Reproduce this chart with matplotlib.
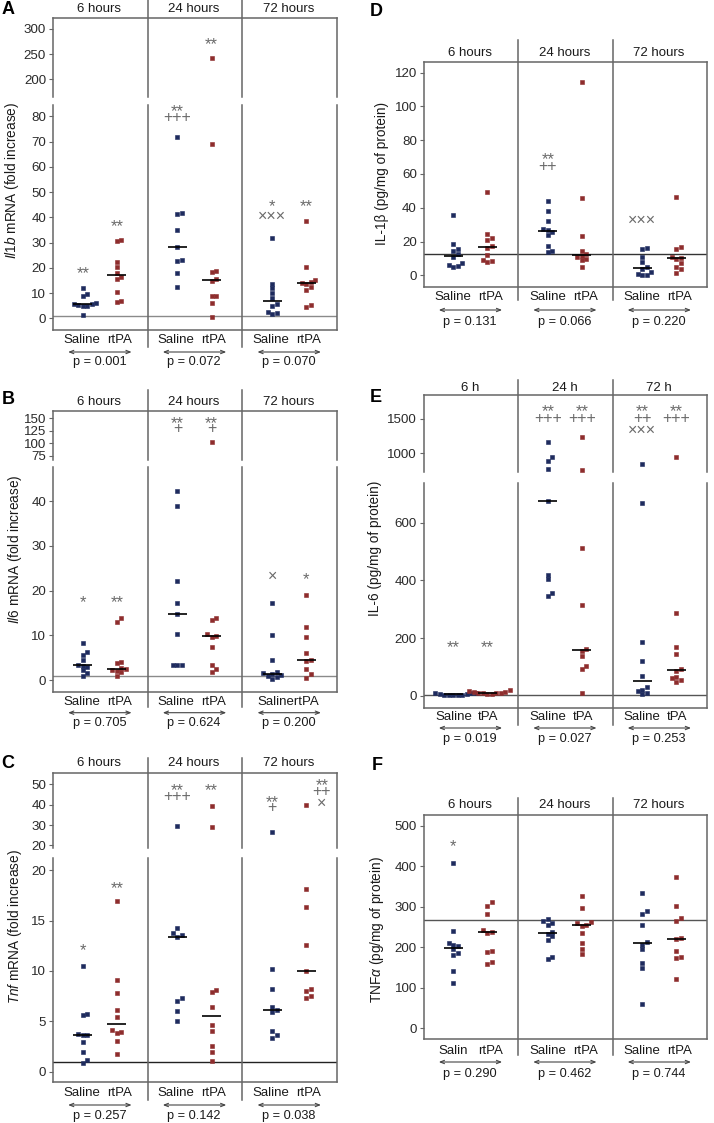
import numpy as np
import matplotlib
matplotlib.use('Agg')
import matplotlib.pyplot as plt
import matplotlib.transforms as mt

plt.rcParams['font.family'] = ['Liberation Sans', 'DejaVu Sans']
plt.rcParams['mathtext.fontset'] = 'custom'
plt.rcParams['mathtext.it'] = 'Liberation Sans:italic'
plt.rcParams['mathtext.rm'] = 'Liberation Sans'

# ---- data ----
hours = ['6 hours', '24 hours', '72 hours']
hours_e = ['6 h', '24 h', '72 h']

A_saline = [[12.1, 9.5, 9.0, 5.9, 5.6, 5.5, 5.3, 5.1, 4.9, 1.3],
            [71.8, 41.8, 41.3, 35.0, 28.4, 23.0, 22.8, 18.0, 12.5],
            [31.7, 13.7, 11.9, 10.2, 8.0, 5.8, 4.9, 2.6, 2.1, 1.9]]
A_rtpa = [[31.0, 30.6, 22.2, 20.3, 18.0, 16.3, 15.7, 10.6, 6.8, 6.4],
          [243.4, 69.0, 18.9, 18.3, 15.6, 15.0, 9.0, 8.8, 6.2, 0.5],
          [38.5, 20.2, 15.2, 14.5, 14.0, 13.8, 12.5, 11.2, 5.3, 4.6]]
A_notes = [[('s', '**', 19.8), ('r', '**', 38.5)],
           [('s', '**', 83.8), ('s', '+++', 79.5), ('r', '**', 278)],
           [('s', '*', 46.2), ('s', '×××', 40.3), ('r', '**', 46.2)]]
A_p = ['p = 0.001', 'p = 0.072', 'p = 0.070']

B_saline = [[8.3, 6.3, 5.6, 4.5, 3.4, 3.2, 2.8, 2.2, 1.6, 1.0],
            [42.2, 38.9, 22.2, 17.1, 14.7, 10.2, 3.4, 3.4, 3.4],
            [17.3, 10.0, 4.5, 1.8, 1.5, 1.3, 1.1, 0.9, 0.6, 0.2]]
B_rtpa = [[13.8, 13.0, 4.1, 3.7, 2.7, 2.4, 2.2, 2.0, 1.7, 0.9],
          [102.7, 13.8, 13.4, 10.2, 9.9, 9.7, 7.4, 3.4, 2.4, 1.9],
          [19.1, 11.9, 9.5, 6.0, 4.5, 4.3, 2.5, 1.3, 0.5]]
B_notes = [[('s', '*', 18.5), ('r', '**', 18.5)],
           [('s', '**', 150), ('s', '+', 130), ('r', '**', 150), ('r', '+', 130)],
           [('s', '×', 23.2), ('r', '*', 23.5)]]
B_p = ['p = 0.705', 'p = 0.624', 'p = 0.200']

C_saline = [[10.5, 5.7, 5.6, 3.7, 3.6, 3.6, 2.9, 1.95, 1.2, 0.9],
            [29.3, 14.3, 13.8, 13.55, 13.4, 7.3, 7.0, 6.05, 5.0],
            [26.4, 10.2, 8.2, 6.4, 6.1, 5.9, 4.0, 3.6, 3.3]]
C_rtpa = [[16.9, 9.06, 7.8, 6.15, 5.4, 4.1, 3.9, 3.8, 3.0, 1.8],
          [39.5, 28.9, 8.1, 7.9, 6.45, 4.6, 4.07, 2.6, 2.0, 1.1],
          [40.0, 18.1, 16.3, 12.6, 10.0, 8.2, 8.0, 7.5, 7.3]]
C_notes = [[('s', '*', 12.5), ('r', '**', 18.7)],
           [('s', '**', 49.2), ('s', '+++', 44.0), ('r', '**', 49.2)],
           [('s', '**', 43.6), ('s', '+', 38.5),
            ('r+', '**', 51.8), ('r+', '++', 46.4), ('r+', '×', 40.6)]]
C_p = ['p = 0.257', 'p = 0.142', 'p = 0.038']

D_saline = [[35.7, 18.5, 15.5, 14.6, 12.5, 10.7, 7.2, 6.2, 5.6, 5.0],
            [44.0, 38.1, 32.2, 27.2, 26.6, 25.8, 23.9, 17.4, 14.6, 13.8],
            [16.0, 15.4, 11.0, 8.1, 5.1, 4.0, 2.2, 0.5, 0.2, 0.0]]
D_rtpa = [[49.5, 24.5, 22.3, 20.9, 17.1, 16.1, 11.8, 9.1, 8.3, 8.0],
          [114.7, 45.8, 23.5, 14.6, 12.8, 11.6, 10.8, 9.8, 9.1, 4.8],
          [46.2, 17.0, 15.4, 11.1, 10.4, 9.8, 7.1, 5.0, 3.5, 1.2]]
D_notes = [[], [('s', '**', 71.2), ('s', '++', 64.3)], [('s', '×××', 32.4)]]
D_p = ['p = 0.131', 'p = 0.066', 'p = 0.220']

E_saline = [[11, 10, 9, 8, 6, 5, 4, 4, 3, 2],
            [1170, 942, 888, 767, 676, 419, 404, 355, 346],
            [845, 667, 186, 121, 70, 32, 21, 16, 12, 6]]
E_rtpa = [[19, 16, 15, 13, 12, 11, 10, 9, 8, 6],
          [1233, 757, 511, 315, 163, 155, 138, 105, 92, 9],
          [951, 288, 171, 144, 92, 88, 67, 61, 55, 50]]
E_notes = [[('s', '**', 186), ('r', '**', 186)],
           [('s', '**', 1680), ('s', '+++', 1500), ('r', '**', 1680), ('r', '+++', 1500)],
           [('s', '**', 1680), ('s', '++', 1500), ('s', '×××', 1330),
            ('r', '**', 1680), ('r', '+++', 1500)]]
E_p = ['p = 0.019', 'p = 0.027', 'p = 0.253']

F_saline = [[409, 241, 210, 207, 203, 195, 186, 181, 142, 111],
            [269, 265, 261, 255, 239, 232, 227, 218, 177, 171],
            [335, 290, 283, 255, 213, 207, 195, 161, 148, 59]]
F_rtpa = [[311, 303, 282, 243, 239, 236, 190, 188, 165, 159],
          [327, 298, 262, 259, 256, 252, 235, 210, 195, 184],
          [375, 301, 272, 265, 222, 220, 191, 176, 173, 122]]
F_notes = [[('s', '*', 461)], [], []]
F_p = ['p = 0.290', 'p = 0.462', 'p = 0.744']

W, H = 714, 1123
BLUE = '#1e2b5e'
RED = '#8e2d2d'
FRAME = '#666666'
NOTE = '#6a6a6a'
TXT = '#1a1a1a'

fig = plt.figure(figsize=(W / 100, H / 100), dpi=100)


def px_axes(x0, x1, top, bottom):
    return fig.add_axes([x0 / W, 1 - bottom / H, (x1 - x0) / W, (bottom - top) / H])


def fy(y):
    # pixel from top -> figure fraction
    return 1 - y / H


def swarm_x(ax, xc, vals, size=4.5):
    t = ax.transData
    inv = t.inverted()
    cx = t.transform((xc, 0))[0]
    placed = []
    out = [xc] * len(vals)
    for i in np.argsort(vals):
        py = t.transform((xc, vals[i]))[1]
        for k in range(60):
            off = ((k + 1) // 2) * (1 if k % 2 else -1) * size * 0.5
            px = cx + off
            if all(abs(px - qx) >= size * 0.92 or abs(py - qy) >= size * 0.92 for qx, qy in placed):
                break
        placed.append((px, py))
        out[i] = inv.transform((px, py))[0]
    return out


def style_ax(ax, ylim, ticks, part):
    ax.set_xlim(0, 3)
    ax.set_ylim(*ylim)
    ax.set_yticks(ticks)
    ax.set_xticks([])
    for s in ax.spines.values():
        s.set_color(FRAME)
        s.set_linewidth(1.1)
    if part == 'upper':
        ax.spines['bottom'].set_visible(False)
    if part == 'lower':
        ax.spines['top'].set_visible(False)
    ax.tick_params(axis='y', direction='out', length=3, width=0.8, color=FRAME,
                   labelcolor='#2a2a2a', labelsize=9.6, pad=2)
    ax.patch.set_alpha(0)


def draw_panel(p):
    x0, x1 = p['x'], p['x1']
    if 'upper' in p:
        ut, ub, ulim, uticks = p['upper']
        lt, lb, llim, lticks = p['lower']
        axu = px_axes(x0, x1, ut, ub)
        axl = px_axes(x0, x1, lt, lb)
        style_ax(axu, ulim, uticks, 'upper')
        style_ax(axl, llim, lticks, 'lower')
        axes = [axu, axl]
        for d in (1, 2):
            axu.axvline(d, 0, 1 + (ut - p['div'][0]) / (ub - ut), color=FRAME, lw=1.1, clip_on=False)
            axl.axvline(d, -(p['div'][1] - lb) / (lb - lt), 1, color=FRAME, lw=1.1, clip_on=False)
    else:
        t, b, lim, ticks = p['single']
        axl = px_axes(x0, x1, t, b)
        style_ax(axl, lim, ticks, 'single')
        axes = [axl]
        h = b - t
        for d in (1, 2):
            axl.axvline(d, -(p['div'][1] - b) / h, 1 + (t - p['div'][0]) / h,
                        color=FRAME, lw=1.1, clip_on=False)

    def pick(v):
        if len(axes) == 2 and v > axes[1].get_ylim()[1]:
            return axes[0]
        return axes[-1]

    axl.axhline(p['ref'], color=p['refc'], lw=1.0, zorder=1)
    bt = mt.blended_transform_factory(axl.transData, fig.transFigure)
    tr = (axl.transData, fig.transFigure)

    for i in range(3):
        for vals, col, xpos in ((p['sal'][i], BLUE, i + 0.315), (p['rt'][i], RED, i + 0.675)):
            for ax in axes:
                sub = [v for v in vals if pick(v) is ax]
                if not sub:
                    continue
                xs = swarm_x(ax, xpos, sub)
                ax.plot(xs, sub, 's', ms=3.2, color=col, mec=col, mew=0.4,
                        zorder=3, clip_on=False)
            m = float(np.median(vals))
            pick(m).plot([xpos - 0.1, xpos + 0.1], [m, m], color='black', lw=1.2,
                         zorder=4, solid_capstyle='butt')
        for who, txt, val in p['notes'][i]:
            xpos = i + (0.315 if who == 's' else 0.675) + (0.165 if who == 'r+' else 0)
            star = txt.startswith('*')
            pick(val).annotate(txt, (xpos, val), xytext=(0, -3.6 if star else 0),
                               textcoords='offset points', ha='center', va='center',
                               fontsize=12 if star else 11.5, color=NOTE,
                               annotation_clip=False)
        axl.text(i + 0.49, fy(p['head']), p['hours'][i], transform=bt, ha='center',
                 va='center', fontsize=9.5, color=TXT)
        labs = p['labels'][i]
        if len(labs) == 1:
            axl.text(i + 0.49, fy(p['lab']), labs[0], transform=bt, ha='center',
                     va='center', fontsize=9.5, color=TXT)
        else:
            for lx, lab in zip(p['labx'], labs):
                axl.text(i + lx, fy(p['lab']), lab, transform=bt, ha='center',
                         va='center', fontsize=9.5, color=TXT)
        axl.annotate('', xy=(i + 0.83, fy(p['arr'])), xytext=(i + 0.16, fy(p['arr'])),
                     xycoords=tr, textcoords=tr,
                     arrowprops=dict(arrowstyle='<->,head_length=0.3,head_width=0.12',
                                     color='#444444', lw=0.8, shrinkA=0, shrinkB=0),
                     annotation_clip=False)
        axl.text(i + 0.49, fy(p['pv']), p['p'][i], transform=bt, ha='center',
                 va='center', fontsize=9.2, color=TXT)

    fig.text(p['ylab'][0] / W, fy(p['ylab'][1]), p['ylabel'], rotation=90,
             ha='center', va='center', fontsize=9.8, color=TXT)
    fig.text(p['letter'][0] / W, fy(p['letter'][1]), p['key'], ha='center',
             va='center', fontsize=13, fontweight='bold')


std = [('Saline', 'rtPA')] * 3
panels = [
    dict(key='A', x=53, x1=337, sal=A_saline, rt=A_rtpa, notes=A_notes, p=A_p,
         upper=(18, 97, (165.1, 321.7), [200, 250, 300]),
         lower=(105, 330, (-4.6, 84.5), list(range(0, 81, 10))),
         div=(0, 347), head=9, lab=340, arr=352, pv=362, ref=1, refc='#8a8a8a',
         hours=hours, labels=std, labx=(0.30, 0.70),
         ylabel=r'$\it{Il1b}$ mRNA (fold increase)', ylab=(12, 180), letter=(8, 9)),
    dict(key='B', x=53, x1=337, sal=B_saline, rt=B_rtpa, notes=B_notes, p=B_p,
         upper=(410.7, 460, (66.4, 165.3), [75, 100, 125, 150]),
         lower=(467, 692, (-2.68, 47.6), [0, 10, 20, 30, 40]),
         div=(390, 707), head=401.7, lab=701.7, arr=712.7, pv=723, ref=1, refc='#8a8a8a',
         hours=hours, labels=[('Saline', 'rtPA'), ('Saline', 'rtPA'), ('SalinertPA',)],
         labx=(0.30, 0.70),
         ylabel=r'$\it{Il6}$ mRNA (fold increase)', ylab=(15, 549), letter=(8, 400)),
    dict(key='C', x=53, x1=337, sal=C_saline, rt=C_rtpa, notes=C_notes, p=C_p,
         upper=(772.7, 848, (18.7, 55.7), [20, 30, 40, 50]),
         lower=(858, 1081.7, (-0.99, 21.2), [0, 5, 10, 15, 20]),
         div=(758, 1100), head=763, lab=1093, arr=1105, pv=1116, ref=1, refc='#222222',
         hours=hours, labels=std, labx=(0.30, 0.70),
         ylabel=r'$\it{Tnf}$ mRNA (fold increase)', ylab=(15, 927), letter=(8, 764)),
    dict(key='D', x=423.7, x1=707, sal=D_saline, rt=D_rtpa, notes=D_notes, p=D_p,
         single=(61.7, 286.7, (-6.75, 126.5), list(range(0, 121, 20))),
         div=(40, 300), head=53, lab=296.7, arr=310, pv=321.7, ref=12.6, refc='#333333',
         hours=hours, labels=std, labx=(0.31, 0.71),
         ylabel='IL-1β (pg/mg of protein)', ylab=(382, 173), letter=(376, 12)),
    dict(key='E', x=423.7, x1=707, sal=E_saline, rt=E_rtpa, notes=E_notes, p=E_p,
         upper=(395, 471.7, (732, 1849), [1000, 1500]),
         lower=(483.3, 708.3, (-42.6, 736), [0, 200, 400, 600]),
         div=(380, 725), head=388, lab=717, arr=728, pv=739, ref=4, refc='#555555',
         hours=hours_e, labels=[('Saline', 'tPA')] * 3, labx=(0.315, 0.685),
         ylabel='IL-6 (pg/mg of protein)', ylab=(375, 548), letter=(376, 397)),
    dict(key='F', x=423.7, x1=707, sal=F_saline, rt=F_rtpa, notes=F_notes, p=F_p,
         single=(815, 1039.3, (-27.2, 527), list(range(0, 501, 100))),
         div=(798, 1055), head=805, lab=1050.7, arr=1062, pv=1074, ref=268, refc='#555555',
         hours=hours, labels=[('Salin', 'rtPA'), ('Saline', 'rtPA'), ('Saline', 'rtPA')],
         labx=(0.31, 0.71),
         ylabel=r'TNF$\alpha$ (pg/mg of protein)', ylab=(377, 930), letter=(377, 766)),
]

for p in panels:
    draw_panel(p)

fig.savefig('out.png', dpi=100, facecolor='white')
